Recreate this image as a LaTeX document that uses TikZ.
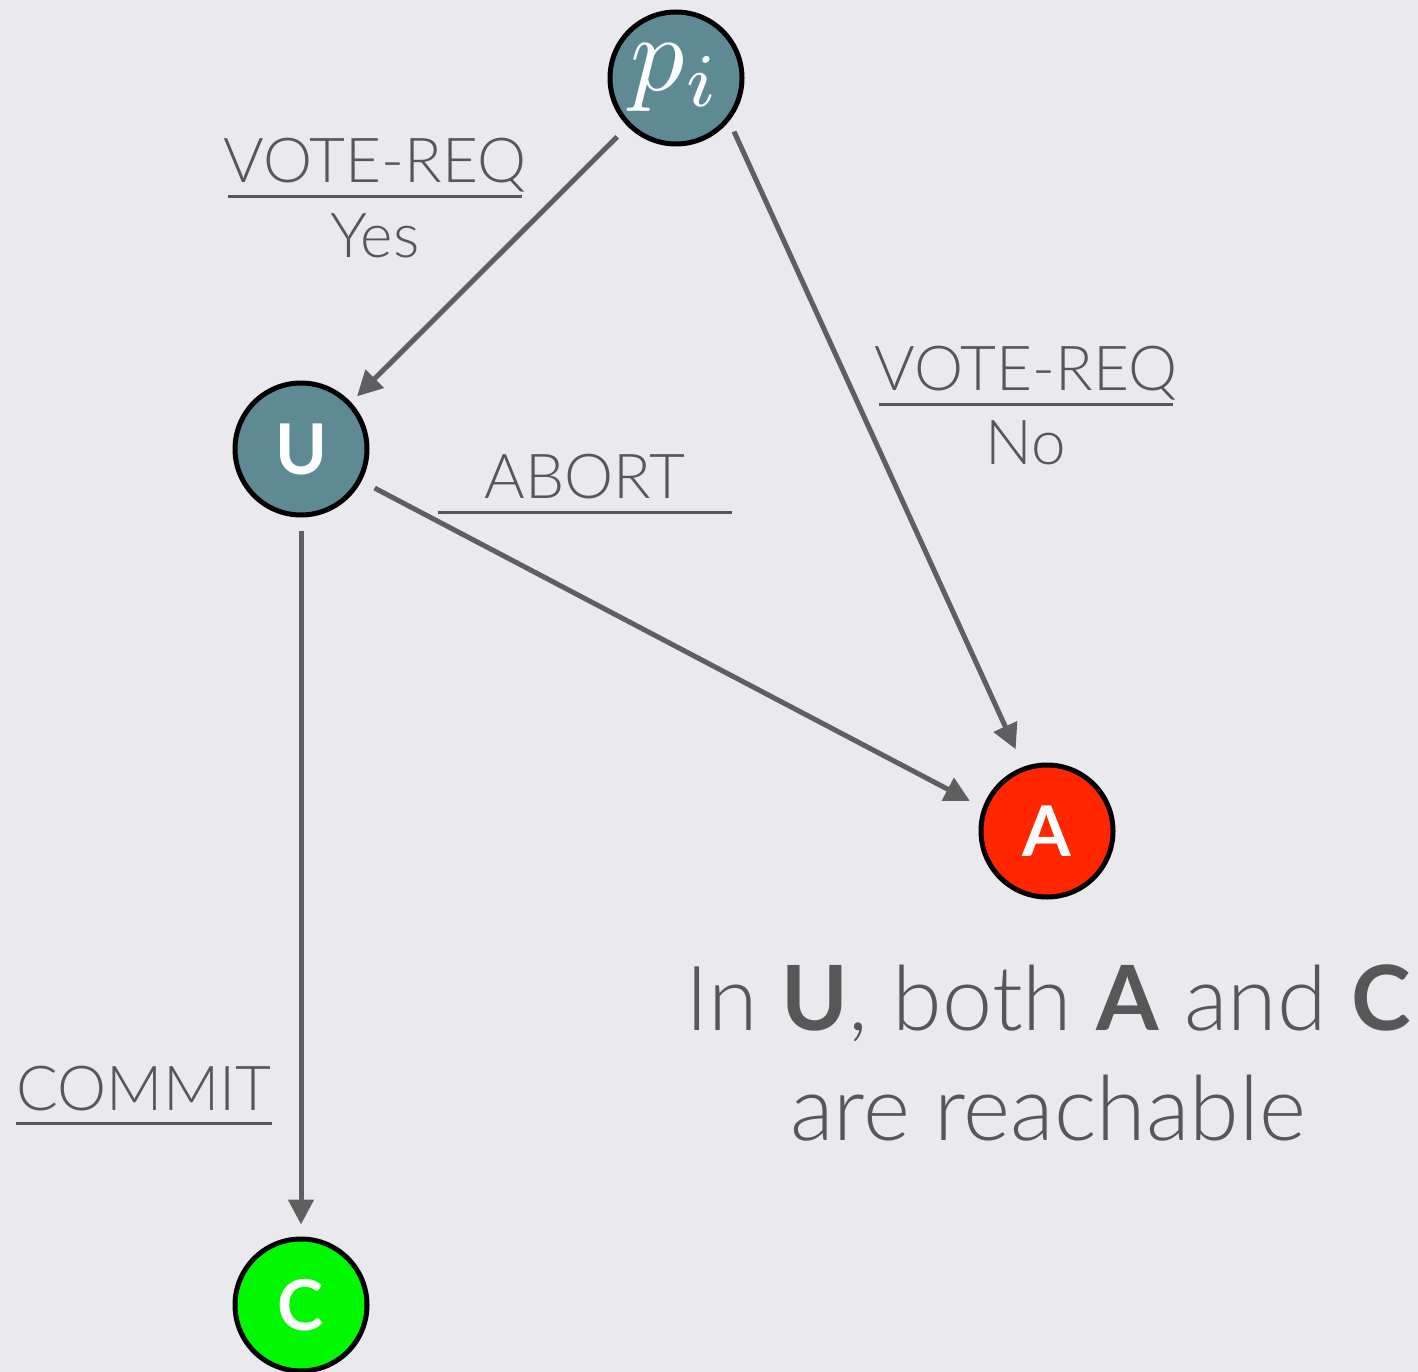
\documentclass[tikz,border=0pt]{standalone}
\usepackage{fontspec}
\usepackage{graphicx}
\setmainfont{Lato}[UprightFont=* Light, BoldFont=* Bold]
\usetikzlibrary{arrows.meta}

\definecolor{bgc}{HTML}{EAE9EE}
\definecolor{textc}{HTML}{575757}
\definecolor{arrowc}{HTML}{5E605F}
\definecolor{tealc}{HTML}{5E8A94}
\definecolor{abortc}{HTML}{FF2600}
\definecolor{commitc}{HTML}{00F900}

\begin{document}
\begin{tikzpicture}[x=1pt, y=-1pt,
  state/.style={circle, draw=black, line width=5pt, minimum size=132pt,
    inner sep=0pt, text=white, font=\fontsize{70}{70}\selectfont\bfseries},
  flow/.style={draw=arrowc, line width=5pt, -{Triangle[length=25pt,width=25pt]}},
  lbl/.style={text=textc, font=\fontsize{62}{62}\selectfont, anchor=base, inner sep=0pt},
  capt/.style={text=textc, font=\fontsize{90}{90}\selectfont, anchor=base, inner sep=0pt},
  rule/.style={draw=textc, line width=3pt}]

  % canvas
  \fill[bgc] (0,0) rectangle (1418,1372);
  \useasboundingbox (0,0) rectangle (1418,1372);

  % states
  \node[state, fill=tealc, font=\fontsize{10}{12}\selectfont] (pi) at (676,78)
    {\scalebox{10.8}{$p_i$}};
  \node[state, fill=tealc] (U) at (301,449) {U};
  \node[state, fill=abortc] (A) at (1047,831) {A};
  \node[state, fill=commitc] (C) at (301,1305) {C};

  % transitions
  \draw[flow, shorten <=14.7pt, shorten >=8.4pt] (pi.-135.6) -- (U.43.9);
  \draw[flow, shorten <=11.5pt, shorten >=19.1pt] (pi.-39.8) -- (A.110.8);
  \draw[flow, shorten <=14.8pt, shorten >=14.4pt] (U.-28.2) -- (A.160.9);
  \draw[flow, shorten <=13pt, shorten >=12pt] (U.-90) -- (C.90);

  % transition labels: message received over message sent
  \node[lbl] (v1) at (375,183) {VOTE-REQ};
  \node[lbl] (y1) at (375,258) {Yes};
  \coordinate (r1a) at (228,197); \coordinate (r1b) at (522,197);
  \draw[rule] (r1a) -- (r1b);

  \node[lbl] (v2) at (1026,390) {VOTE-REQ};
  \node[lbl] (n2) at (1026,464) {No};
  \coordinate (r2a) at (879,404); \coordinate (r2b) at (1173,404);
  \draw[rule] (r2a) -- (r2b);

  \node[lbl] (ab) at (585,498) {ABORT};
  \coordinate (r3a) at (438,512); \coordinate (r3b) at (732,512);
  \draw[rule] (r3a) -- (r3b);

  \node[lbl] (cm) at (144,1110) {COMMIT};
  \coordinate (r4a) at (16,1123); \coordinate (r4b) at (272,1123);
  \draw[rule] (r4a) -- (r4b);

  % caption
  \node[capt] (cap1) at (1048,1030) {In \textbf{U}, both \textbf{A} and \textbf{C}};
  \node[capt] (cap2) at (1048,1140) {are reachable};
\end{tikzpicture}
\end{document}
